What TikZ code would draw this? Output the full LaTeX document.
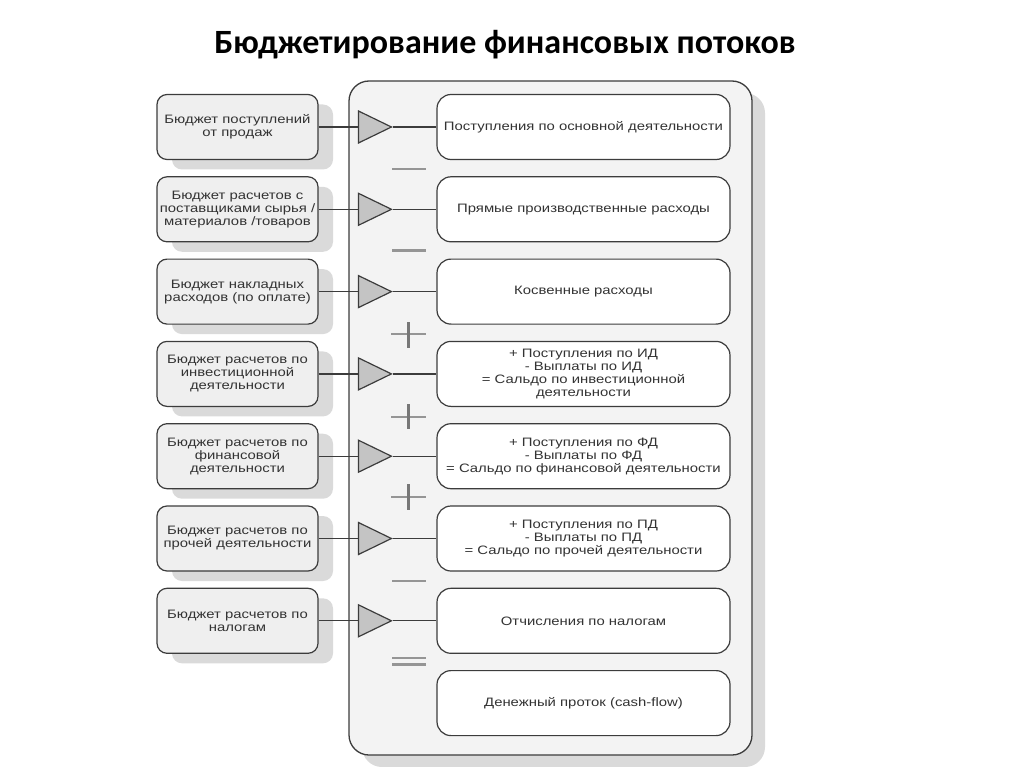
\documentclass[tikz,border=0pt]{standalone}
\usepackage{fontspec}
\setmainfont{Liberation Sans}
\newfontfamily\titlefont{Carlito}
\newfontfamily\boxfont[FakeStretch=1.22]{Liberation Sans}
\usetikzlibrary{shapes.geometric,shadows}

\definecolor{frame}{HTML}{3C3C3C}
\definecolor{panel}{HTML}{F3F3F3}
\definecolor{leftfill}{HTML}{EFEFEF}
\definecolor{shade}{HTML}{DADADA}
\definecolor{signgray}{HTML}{959595}
\definecolor{txt}{HTML}{333333}
\definecolor{trifill}{HTML}{C4C4C4}

\tikzset{
  budget/.style={draw=frame, line width=1.2pt, fill=leftfill, rounded corners=10pt,
    minimum width=161pt, minimum height=65pt, inner sep=0pt, align=center, text=txt,
    font=\boxfont\fontsize{12.2}{13}\selectfont,
    drop shadow={shadow xshift=15pt, shadow yshift=-10pt, fill=shade, opacity=1}},
  flow/.style={draw=frame, line width=1.2pt, fill=white, rounded corners=14pt,
    minimum width=293pt, minimum height=65pt, inner sep=0pt, align=center, text=txt,
    font=\boxfont\fontsize{12.2}{13}\selectfont},
  gate/.style={isosceles triangle, isosceles triangle stretches, draw=frame,
    line width=1.2pt, fill=trifill, minimum width=32pt, minimum height=33pt, inner sep=0pt},
  link/.style={draw=frame, line width=1.2pt},
  opsign/.style={draw=signgray, line width=2.2pt},
  opbar/.style={draw=signgray!80!black, line width=3pt}
}

\begin{document}
\begin{tikzpicture}[x=1pt,y=-1pt]
\useasboundingbox (0,0) rectangle (1024,767);
\node[font=\titlefont\bfseries\fontsize{34}{40}\selectfont] (title) at (505,45) {Бюджетирование финансовых потоков};

% panel
\draw[draw=frame, line width=1.3pt, fill=panel, rounded corners=20pt,
  drop shadow={shadow xshift=13pt, shadow yshift=-12pt, fill=shade, opacity=1}]
  (349,81) rectangle (752,755);

% budgets
\node[budget] (b1) at (237.5,127) {Бюджет поступлений\\от продаж};
\node[budget] (b2) at (237.5,209.3) {Бюджет расчетов с\\поставщиками сырья /\\материалов /товаров};
\node[budget] (b3) at (237.5,291.6) {Бюджет накладных\\расходов (по оплате)};
\node[budget] (b4) at (237.5,373.9) {Бюджет расчетов по\\инвестиционной\\деятельности};
\node[budget] (b5) at (237.5,456.2) {Бюджет расчетов по\\финансовой\\деятельности};
\node[budget] (b6) at (237.5,538.5) {Бюджет расчетов по\\прочей деятельности};
\node[budget] (b7) at (237.5,620.8) {Бюджет расчетов по\\налогам};

% flows
\node[flow] (f1) at (583.5,127) {Поступления по основной деятельности};
\node[flow] (f2) at (583.5,209.3) {Прямые производственные расходы};
\node[flow] (f3) at (583.5,291.6) {Косвенные расходы};
\node[flow] (f4) at (583.5,373.9) {+ Поступления по ИД\\- Выплаты по ИД\\= Сальдо по инвестиционной\\деятельности};
\node[flow] (f5) at (583.5,456.2) {+ Поступления по ФД\\- Выплаты по ФД\\= Сальдо по финансовой деятельности};
\node[flow] (f6) at (583.5,538.5) {+ Поступления по ПД\\- Выплаты по ПД\\= Сальдо по прочей деятельности};
\node[flow] (f7) at (583.5,620.8) {Отчисления по налогам};
\node[flow] (f8) at (583.5,703.1) {Денежный проток (cash-flow)};

% triangles
\node[gate, anchor=apex] (g1) at (393,127) {};
\node[gate, anchor=apex] (g2) at (393,209.3) {};
\node[gate, anchor=apex] (g3) at (393,291.6) {};
\node[gate, anchor=apex] (g4) at (393,373.9) {};
\node[gate, anchor=apex] (g5) at (393,456.2) {};
\node[gate, anchor=apex] (g6) at (393,538.5) {};
\node[gate, anchor=apex] (g7) at (393,620.8) {};

\draw[link] (b1.east) -- (g1.west);
\draw[link] (b2.east) -- (g2.west);
\draw[link] (b3.east) -- (g3.west);
\draw[link] (b4.east) -- (g4.west);
\draw[link] (b5.east) -- (g5.west);
\draw[link] (b6.east) -- (g6.west);
\draw[link] (b7.east) -- (g7.west);
\draw[link] (g1.east) -- (f1.west);
\draw[link] (g2.east) -- (f2.west);
\draw[link] (g3.east) -- (f3.west);
\draw[link] (g4.east) -- (f4.west);
\draw[link] (g5.east) -- (f5.west);
\draw[link] (g6.east) -- (f6.west);
\draw[link] (g7.east) -- (f7.west);

% signs
\draw[opsign] (392,169) -- (426,169);
\draw[opsign] (392,250.5) -- (426,250.5);
\draw[opsign] (391,334) -- (426,334);
\draw[opbar] (408,322) -- (408,348);
\draw[opsign] (391,417) -- (426,417);
\draw[opbar] (408,404) -- (408,429);
\draw[opsign] (391,497) -- (426,497);
\draw[opbar] (408,484) -- (408,510);
\draw[opsign] (392,581) -- (426,581);
\draw[opsign] (392,658) -- (426,658);
\draw[opsign] (392,664.5) -- (426,664.5);
\end{tikzpicture}
\end{document}
